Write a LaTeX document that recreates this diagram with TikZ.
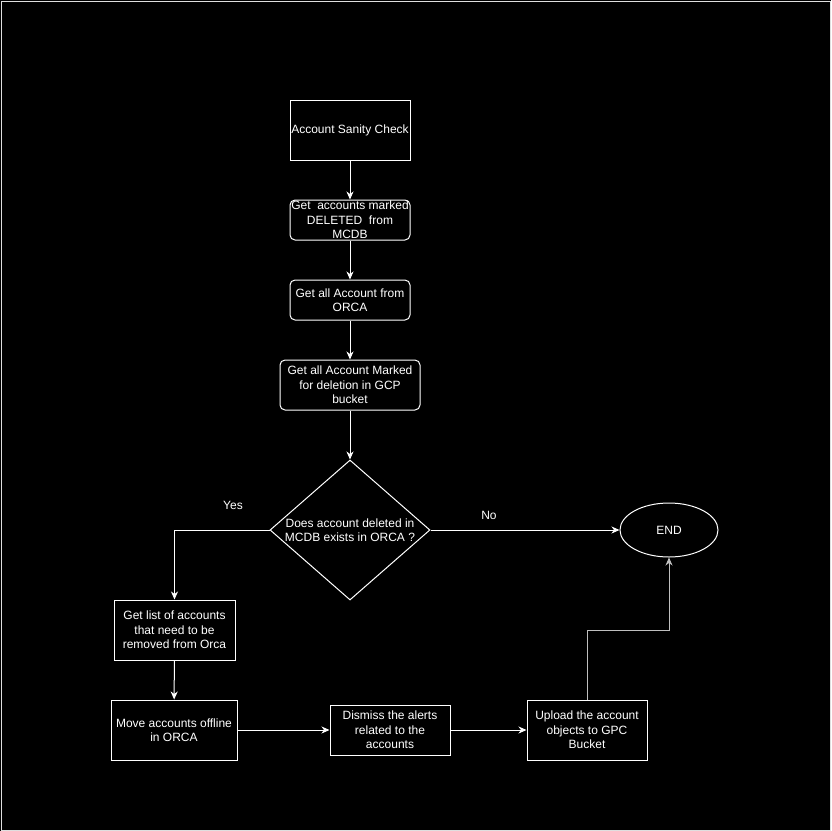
\documentclass[tikz,border=0pt]{standalone}
\usepackage{fontspec}
\setmainfont{Liberation Sans}
\usetikzlibrary{shapes.geometric,arrows.meta}
\begin{document}
\begin{tikzpicture}[x=1pt,y=-1pt,
  every node/.style={font=\fontsize{12}{14.5}\selectfont,text=white,align=center,inner sep=0pt},
  sqbox/.style={draw=white,line width=1pt,minimum width=#1,rectangle},
  rndbox/.style={draw=white,line width=1pt,rounded corners=5pt,rectangle},
  flow/.style={draw=white,line width=1pt,-{Stealth[length=8pt,width=7pt,inset=2.5pt]}},
  lbl/.style={text=white}
]
% page and frame
\fill[black] (0,0) rectangle (831,831);
\draw[gray!25,line width=0.6pt] (1,1) rectangle (830,830);
\useasboundingbox (0,0) rectangle (831,831);

% boxes of the vertical chain
\node[sqbox=120pt,minimum height=60pt] (check) at (350,130) {Account Sanity Check};
\node[rndbox,minimum width=120pt,minimum height=40pt] (mcdb) at (350,220) {Get\ \ accounts marked\\DELETED\ \ from\\MCDB};
\node[rndbox,minimum width=120pt,minimum height=40pt] (orca) at (350,300) {Get all Account from\\ORCA};
\node[rndbox,minimum width=140pt,minimum height=50pt] (gcp) at (350,385) {Get all Account Marked\\for deletion in GCP\\bucket};

% decision
\node[diamond,draw=white,line width=1pt,minimum width=160pt,minimum height=140pt,aspect=1.14] (dec) at (350,530) {Does account deleted in\\MCDB exists in ORCA ?};
\node[ellipse,draw=white,line width=1pt,minimum width=98pt,minimum height=54pt] (end) at (669,530) {END};

% lower row
\node[sqbox=121pt,minimum height=60pt] (list) at (174.5,630) {Get list of accounts\\that need to be\\removed from Orca};
\node[sqbox=126pt,minimum height=60pt] (move) at (174,730) {Move accounts offline\\in ORCA};
\node[sqbox=120pt,minimum height=50pt] (dismiss) at (390,730) {Dismiss the alerts\\related to the\\accounts};
\node[sqbox=120pt,minimum height=60pt] (upload) at (587,730) {Upload the account\\objects to GPC\\Bucket};

% labels
\node[lbl] (yes) at (233,505) {Yes};
\node[lbl] (no) at (489,515) {No};

% connectors
\draw[flow] (check) -- (mcdb);
\draw[flow] (mcdb) -- (orca);
\draw[flow] (orca) -- (gcp);
\draw[flow] (gcp) -- (dec);
\draw[flow] (dec.east) -- (end.west);
\draw[flow] (dec.west) -| (list.north);
\draw[flow] (list) -- (move);
\draw[flow] (move) -- (dismiss);
\draw[flow] (dismiss) -- (upload);
\coordinate (bend) at (587,630);
\draw[flow,draw=white!75!black] (upload.north) -- (bend) -| (end.south);
\end{tikzpicture}
\end{document}
